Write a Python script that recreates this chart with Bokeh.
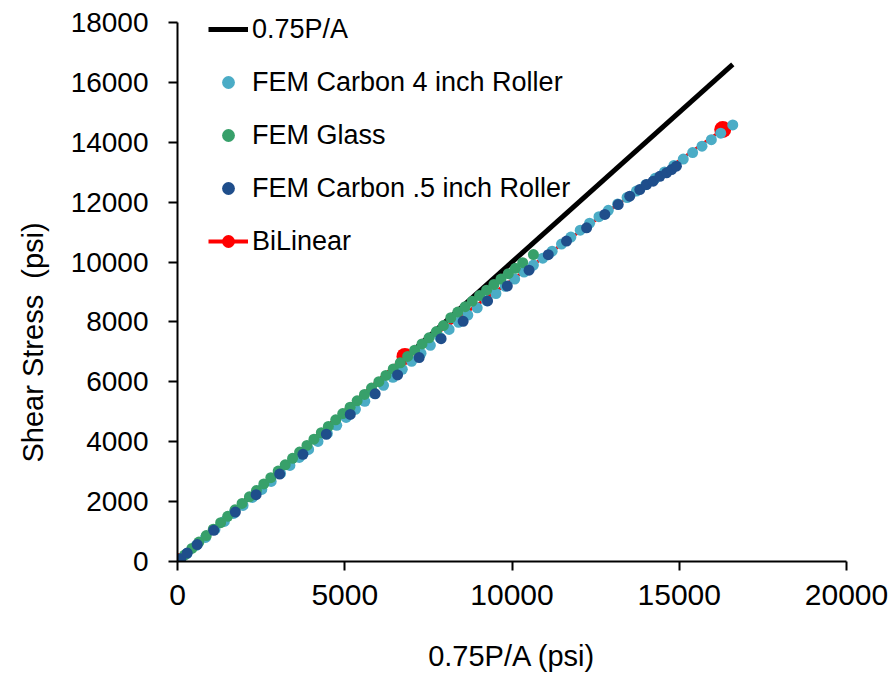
from bokeh.plotting import figure
from bokeh.models import ColumnDataSource, FixedTicker, Legend, LegendItem, Range1d, Title
from bokeh.embed import file_html
from bokeh.resources import INLINE

# ---------------- data ----------------
x_ticks = [0, 5000, 10000, 15000, 20000]
y_ticks = [0, 2000, 4000, 6000, 8000, 10000, 12000, 14000, 16000, 18000]

ref_x = [0, 16600]
ref_y = [0, 16600]

bilinear_x = [0, 6800, 16300]
bilinear_y = [0, 6850, 14430]

carbon4_x = [0, 280, 560, 840, 1120, 1400, 1680, 1960, 2240, 2520, 2800, 3080, 3360,
             3640, 3920, 4200, 4480, 4760, 5040, 5320, 5600, 5880, 6160, 6440, 6720,
             7000, 7280, 7560, 7840, 8120, 8400, 8680, 8960, 9240, 9520, 9800, 10080,
             10360, 10640, 10920, 11200, 11480, 11760, 12040, 12320, 12600, 12880,
             13160, 13440, 13720, 14000, 14280, 14560, 14840, 15120, 15400, 15680,
             15960, 16240, 16600]
carbon4_y = [0, 267, 535, 802, 1070, 1337, 1604, 1872, 2139, 2407, 2674, 2941, 3209,
             3476, 3744, 4011, 4278, 4546, 4813, 5081, 5348, 5615, 5883, 6150, 6418,
             6685, 6952, 7220, 7487, 7750, 7990, 8230, 8470, 8710, 8950, 9190, 9430,
             9664, 9898, 10131, 10365, 10599, 10833, 11066, 11300, 11514, 11728,
             11942, 12156, 12370, 12584, 12797, 13011, 13225, 13440, 13656, 13871,
             14086, 14302, 14580]

glass_x = [0, 210, 430, 640, 860, 1070, 1290, 1500, 1720, 1930, 2150, 2360, 2580, 2790,
           3010, 3220, 3440, 3650, 3870, 4080, 4300, 4510, 4730, 4940, 5160, 5370, 5590,
           5800, 6020, 6230, 6450, 6660, 6880, 7090, 7310, 7520, 7740, 7950, 8170, 8380,
           8600, 8810, 9030, 9240, 9460, 9670, 9890, 10100, 10320, 10640]
glass_y = [0, 215, 435, 650, 865, 1080, 1295, 1510, 1725, 1940, 2160, 2370, 2590, 2800,
           3020, 3230, 3445, 3655, 3875, 4085, 4300, 4510, 4730, 4940, 5155, 5365, 5580,
           5790, 6005, 6215, 6430, 6635, 6850, 7055, 7265, 7470, 7680, 7880, 8140, 8330,
           8510, 8690, 8880, 9060, 9250, 9430, 9610, 9790, 9980, 10250]

carbon05_x = [0, 100, 290, 590, 1085, 1730, 2350, 3055, 3750, 4450, 5165, 5910, 6580,
              7225, 7880, 8540, 9270, 9860, 10510, 11085, 11630, 12230, 12775, 13175,
              13520, 13820, 14020, 14220, 14420, 14620, 14770, 14915]
carbon05_y = [0, 95, 280, 565, 1040, 1650, 2230, 2920, 3580, 4250, 4910, 5600, 6230,
              6810, 7440, 8020, 8700, 9200, 9730, 10245, 10700, 11145, 11590, 11920,
              12200, 12420, 12590, 12700, 12865, 12980, 13090, 13200]

series_labels = ["0.75P/A", "FEM Carbon 4 inch Roller", "FEM Glass",
                 "FEM Carbon .5 inch Roller", "BiLinear"]
x_title = "0.75P/A (psi)"
y_title = "Shear Stress\u00a0 (psi)"

# ---------------- style / layout ----------------
C_REF = "#000000"
C_C4 = "#4BACC6"
C_GL = "#37A06A"
C_C05 = "#1F4E8B"
C_BL = "#FF0000"
FONT = "Liberation Sans"

FRAME_TOP_PX = 0        # frame starts at the top of the canvas (room for legend)
AXIS_TOP_PX = 22        # where the 18000 tick sits
FRAME_BOTTOM_PX = 561
y_top = y_ticks[-1] * (FRAME_BOTTOM_PX - FRAME_TOP_PX) / (FRAME_BOTTOM_PX - AXIS_TOP_PX)

p = figure(width=890, height=675, output_backend="svg", toolbar_location=None,
           x_range=Range1d(0, x_ticks[-1]), y_range=Range1d(0, y_top),
           min_border_left=177, min_border_right=44, min_border_top=FRAME_TOP_PX,
           min_border_bottom=675 - FRAME_BOTTOM_PX)
p.outline_line_color = None
p.xgrid.visible = False
p.ygrid.visible = False
p.background_fill_color = "white"
p.border_fill_color = "white"

r_ref = p.line(ref_x, ref_y, line_color=C_REF, line_width=5)
r_bl_line = p.line(bilinear_x, bilinear_y, line_color=C_BL, line_width=3)
r_bl_pts = p.scatter(bilinear_x, bilinear_y, size=17, fill_color=C_BL, line_color=None)
r_c4 = p.scatter(carbon4_x, carbon4_y, size=11, fill_color=C_C4, line_color=None)
r_gl = p.scatter(glass_x, glass_y, size=11, fill_color=C_GL, line_color=None)
r_c05 = p.scatter(carbon05_x, carbon05_y, size=11, fill_color=C_C05, line_color=None)

# legend proxies (small markers as in the reference legend); no visible data
def proxy():
    return ColumnDataSource(dict(x=[float("nan")], y=[float("nan")]))

lg_ref = p.line(x="x", y="y", source=proxy(), line_color=C_REF, line_width=5)
lg_c4 = p.scatter(x="x", y="y", source=proxy(), size=8, fill_color=C_C4, line_color=None)
lg_gl = p.scatter(x="x", y="y", source=proxy(), size=8, fill_color=C_GL, line_color=None)
lg_c05 = p.scatter(x="x", y="y", source=proxy(), size=8, fill_color=C_C05, line_color=None)
lg_bl_l = p.line(x="x", y="y", source=proxy(), line_color=C_BL, line_width=4)
lg_bl_p = p.scatter(x="x", y="y", source=proxy(), size=12, fill_color=C_BL, line_color=None)

legend = Legend(items=[
    LegendItem(label=series_labels[0], renderers=[lg_ref]),
    LegendItem(label=series_labels[1], renderers=[lg_c4]),
    LegendItem(label=series_labels[2], renderers=[lg_gl]),
    LegendItem(label=series_labels[3], renderers=[lg_c05]),
    LegendItem(label=series_labels[4], renderers=[lg_bl_l, lg_bl_p]),
], location=(31, 304))
legend.label_text_font = FONT
legend.label_text_font_size = "27px"
legend.label_text_color = "black"
legend.glyph_width = 40
legend.glyph_height = 32
legend.label_height = 32
legend.label_standoff = 4
legend.spacing = 21
legend.padding = 0
legend.margin = 0
legend.border_line_color = None
legend.background_fill_alpha = 0
p.add_layout(legend)

# axes
p.xaxis.ticker = FixedTicker(ticks=x_ticks)
p.yaxis.ticker = FixedTicker(ticks=y_ticks)
p.yaxis.bounds = (y_ticks[0], y_ticks[-1])
for ax in (p.xaxis[0], p.yaxis[0]):
    ax.axis_line_color = "black"
    ax.axis_line_width = 2
    ax.major_tick_line_color = "black"
    ax.major_tick_line_width = 2
    ax.major_tick_out = 9
    ax.major_tick_in = 0
    ax.minor_tick_line_color = None
    ax.major_label_text_font = FONT
    ax.major_label_text_color = "black"
    ax.axis_label_text_font = FONT
    ax.axis_label_text_font_style = "normal"
    ax.axis_label_text_color = "black"

p.xaxis.major_label_text_font_size = "30px"
p.yaxis.major_label_text_font_size = "28px"
p.xaxis.major_label_standoff = 14
p.yaxis.major_label_standoff = 20
p.xaxis.axis_label = x_title
p.xaxis.axis_label_text_font_size = "29px"
p.xaxis.axis_label_standoff = 32

# y title placed in the left panel so that it can sit lower, as in the reference
yt = Title(text=y_title, align="left", offset=99, standoff=33, vertical_align="top",
           text_font=FONT, text_font_size="29px", text_font_style="normal",
           text_color="black")
p.add_layout(yt, "left")

open("out.html", "w").write(file_html(p, INLINE))
